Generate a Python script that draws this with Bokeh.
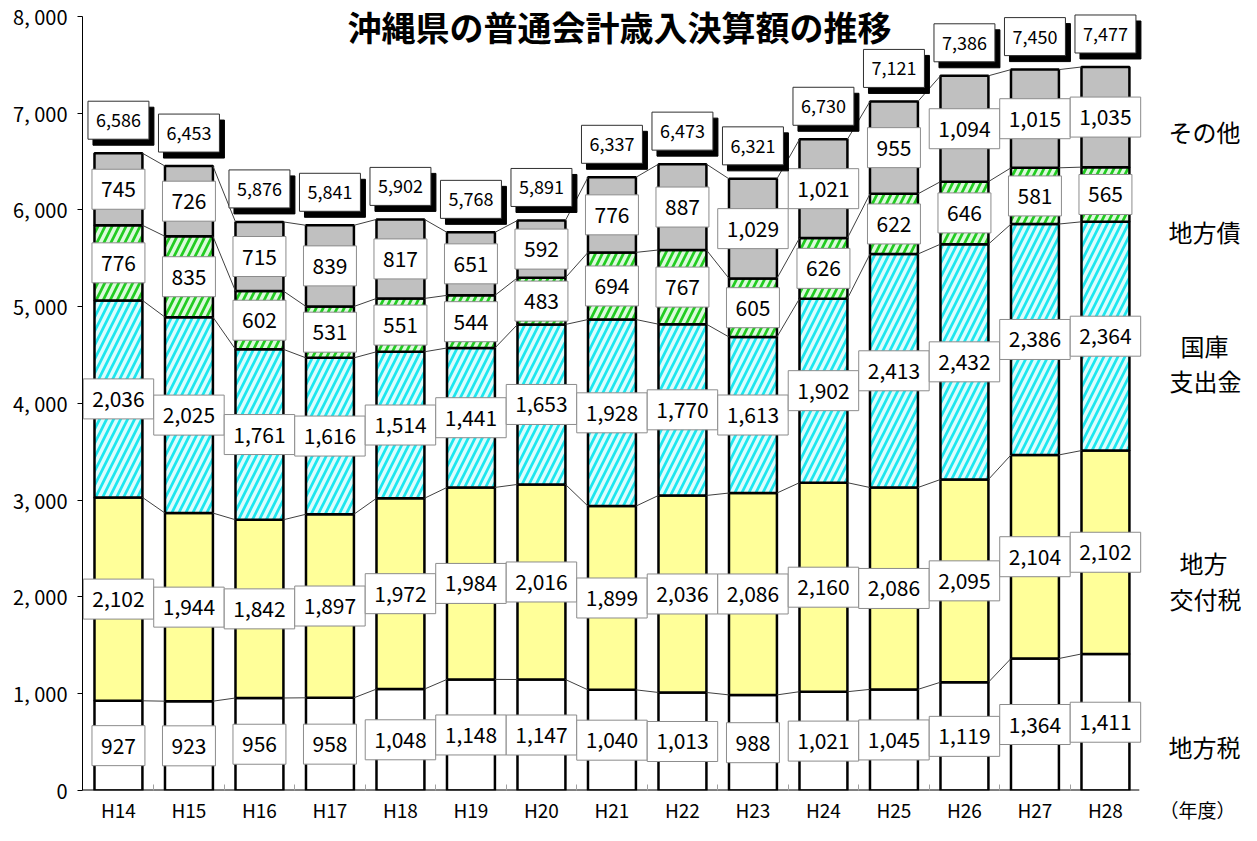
import numpy as np
from bokeh.plotting import figure
from bokeh.models import Range1d, FixedTicker, Label, ColumnDataSource
from bokeh.embed import file_html
from bokeh.resources import INLINE
from bokeh.core.properties import value

# ---------------- data ----------------
years = ["H14", "H15", "H16", "H17", "H18", "H19", "H20", "H21",
         "H22", "H23", "H24", "H25", "H26", "H27", "H28"]
chiho_zei = [927, 923, 956, 958, 1048, 1148, 1147, 1040, 1013, 988, 1021, 1045, 1119, 1364, 1411]
kofu_zei = [2102, 1944, 1842, 1897, 1972, 1984, 2016, 1899, 2036, 2086, 2160, 2086, 2095, 2104, 2102]
kokko = [2036, 2025, 1761, 1616, 1514, 1441, 1653, 1928, 1770, 1613, 1902, 2413, 2432, 2386, 2364]
chiho_sai = [776, 835, 602, 531, 551, 544, 483, 694, 767, 605, 626, 622, 646, 581, 565]
sonota = [745, 726, 715, 839, 817, 651, 592, 776, 887, 1029, 1021, 955, 1094, 1015, 1035]
totals = [6586, 6453, 5876, 5841, 5902, 5768, 5891, 6337, 6473, 6321, 6730, 7121, 7386, 7450, 7477]
series_names = ["地方税", "地方交付税", "国庫支出金", "地方債", "その他"]
y_ticks = [0, 1000, 2000, 3000, 4000, 5000, 6000, 7000, 8000]
y_tick_labels = ["0", "1, 000", "2, 000", "3, 000", "4, 000", "5, 000", "6, 000", "7, 000", "8, 000"]
title_text = "沖縄県の普通会計歳入決算額の推移"
unit_text = "（年度）"

FONT = "Noto Sans CJK JP"
W, H = 1241, 825
ML, MR, MT, MB = 82, 0, 0, 29
FW = W - ML - MR
FH = H - MT - MB
PX_PER_CAT = 70.5
X_START = -0.51
X_LAST = 14.48                      # right end of the category axis
Y_TOP_PX_OFFSET = 16                # 8000 sits 16px below the frame top
XR = (X_START, X_START + FW / PX_PER_CAT)
YR = (0, 8000 * FH / (FH - Y_TOP_PX_OFFSET))

p = figure(width=W, height=H, output_backend="svg", toolbar_location=None, title=None,
           x_range=Range1d(*XR), y_range=Range1d(*YR),
           min_border_left=ML, min_border_right=MR, min_border_top=MT, min_border_bottom=MB)
p.outline_line_color = None
p.grid.visible = False
p.background_fill_color = "white"

# helpers: image pixel -> data coords (for annotations)
def dx(px):
    return XR[0] + (px - 8 - ML) / FW * (XR[1] - XR[0])
def dy(py):
    return YR[0] + (8 + MT + FH - py) / FH * (YR[1] - YR[0])

x = np.arange(len(years))
stack = np.array([chiho_zei, kofu_zei, kokko, chiho_sai, sonota], dtype=float)
tops = np.cumsum(stack, axis=0)
bottoms = tops - stack
BW = 0.68

styles = [
    dict(fill_color="white"),
    dict(fill_color="#FFFF99"),
    dict(fill_color="#1EE6EE", hatch_pattern="/", hatch_color="#F2FFFF", hatch_weight=3.5, hatch_scale=14, hatch_alpha=0.9),
    dict(fill_color="#22CC22", hatch_pattern="/", hatch_color="#F2FFF2", hatch_weight=3.5, hatch_scale=14, hatch_alpha=0.9),
    dict(fill_color="#C0C0C0"),
]

for k in range(5):
    p.vbar(x=x, bottom=bottoms[k], top=tops[k], width=BW,
           line_color="black", line_width=2.5, **styles[k])

# connector lines
for k in range(5):
    p.segment(x0=x[:-1] + BW / 2, y0=tops[k][:-1], x1=x[1:] - BW / 2, y1=tops[k][1:],
              line_color="#404040", line_width=1)

# x axis line (limited to the category span)
p.segment(x0=[X_START], y0=[0], x1=[X_LAST], y1=[0], line_color="black", line_width=2)

# segment value labels
for k in range(5):
    mids = (bottoms[k] + tops[k]) / 2
    src = ColumnDataSource(dict(x=x, y=mids, t=[f"{int(v):,}" for v in stack[k]]))
    p.text(x="x", y="y", text="t", source=src, text_align="center", text_baseline="middle",
           text_font=value(FONT), text_font_size="21px", text_color="black",
           background_fill_color="white", border_line_color="#8C8C8C", border_line_width=1,
           padding=(9, 12))

# total labels with shadow
tsrc = ColumnDataSource(dict(x=x, y=totals, t=[f"{v:,}" for v in totals]))
p.text(x="x", y="y", text="t", source=tsrc, text_align="center", text_baseline="middle",
       x_offset=5, y_offset=-27,
       text_font=value(FONT), text_font_size="18px", text_color="black",
       background_fill_color="black", border_line_color="black", border_line_width=1,
       padding=(8, 12))
p.text(x="x", y="y", text="t", source=tsrc, text_align="center", text_baseline="middle",
       x_offset=0, y_offset=-33,
       text_font=value(FONT), text_font_size="18px", text_color="black",
       background_fill_color="white", border_line_color="#303030", border_line_width=1,
       padding=(8, 12))

# y axis
p.yaxis.bounds = (0, 8000)
p.yaxis.ticker = FixedTicker(ticks=y_ticks)
p.yaxis.major_label_overrides = {t: l for t, l in zip(y_ticks, y_tick_labels)}
p.yaxis.major_label_text_font = FONT
p.yaxis.major_label_text_font_size = "20px"
p.yaxis.major_label_text_color = "black"
p.yaxis.axis_line_color = "black"
p.yaxis.major_tick_out = 5
p.yaxis.major_tick_in = 0
p.yaxis.minor_tick_out = 0
p.yaxis.minor_tick_in = 0
p.yaxis.major_label_standoff = 10

# x axis (labels + inner boundary ticks); unit label as an extra tick
unit_x = dx(1205)
p.xaxis.ticker = FixedTicker(ticks=list(x) + [unit_x], minor_ticks=list(x[:-1] + 0.5))
overrides = {int(i): years[i] for i in x}
overrides[unit_x] = unit_text
p.xaxis.major_label_overrides = overrides
p.xaxis.major_label_text_font = FONT
p.xaxis.major_label_text_font_size = "19px"
p.xaxis.major_label_text_color = "black"
p.xaxis.axis_line_color = None
p.xaxis.major_tick_in = 0
p.xaxis.major_tick_out = 0
p.xaxis.minor_tick_in = 6
p.xaxis.minor_tick_out = 0
p.xaxis.minor_tick_line_color = "#A0A0A0"
p.xaxis.major_label_standoff = 5

# title
p.add_layout(Label(x=dx(627), y=dy(10), text=title_text, text_font=FONT, text_font_size="34px",
                   text_font_style="bold", text_align="center", text_baseline="top",
                   text_color="black"))

# right-side series labels
side = [("その他", 1212, 140), ("地方債", 1212, 241), ("国庫", 1212, 356), ("支出金", 1213, 391),
        ("地方", 1211, 574), ("交付税", 1213, 611), ("地方税", 1212, 760)]
for t, px, py in side:
    p.add_layout(Label(x=dx(px), y=dy(py), text=t, text_font=FONT, text_font_size="24px",
                       text_align="center", text_baseline="middle", text_color="black"))

open("out.html", "w").write(file_html(p, INLINE))
